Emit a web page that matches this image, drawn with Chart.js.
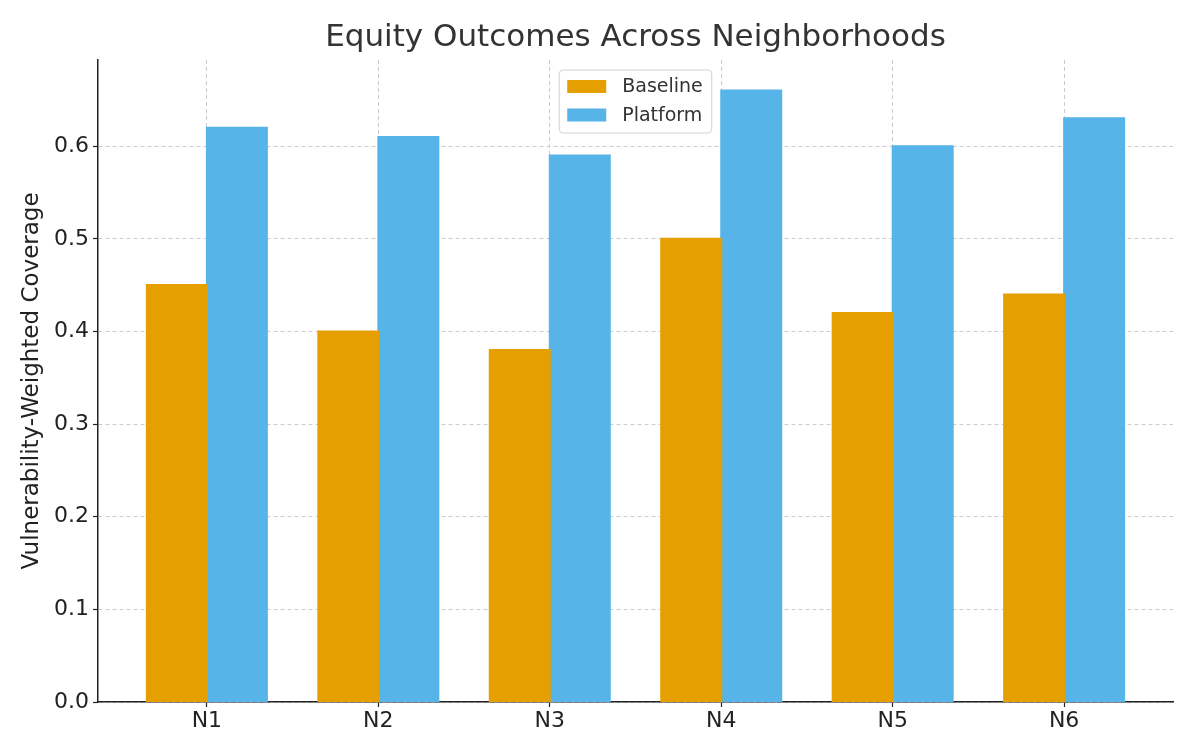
<!DOCTYPE html>
<html>
<head>
<meta charset="utf-8">
<title>Equity Outcomes Across Neighborhoods</title>
<script src="https://cdn.jsdelivr.net/npm/chart.js@4.4.0/dist/chart.umd.min.js"></script>
<style>
    html, body { margin: 0; padding: 0; background: #ffffff; }
    #wrap { width: 1200px; height: 755px; position: relative; }
</style>
</head>
<body>
<div id="wrap"><canvas id="equityChart"></canvas></div>
<script>
const neighborhoods = ['N1', 'N2', 'N3', 'N4', 'N5', 'N6'];
const baselineValues = [0.45, 0.40, 0.38, 0.50, 0.42, 0.44];
const platformValues = [0.62, 0.61, 0.59, 0.66, 0.60, 0.63];
const yTickValues = [0.0, 0.1, 0.2, 0.3, 0.4, 0.5, 0.6];

const FONT = "'DejaVu Sans', sans-serif";
const gridColor = '#cccccc';
const axisColor = '#222222';

function toPoints(values) {
    return values.map((v, i) => ({ x: i, y: v }));
}

// legend drawn inside the plot, top centre, like the original
const insideLegend = {
    id: 'insideLegend',
    afterDatasetsDraw(chart) {
        const ctx = chart.ctx;
        const area = chart.chartArea;
        const sets = chart.data.datasets;
        ctx.save();
        ctx.font = '19px ' + FONT;
        let textW = 0;
        sets.forEach(ds => { textW = Math.max(textW, ctx.measureText(ds.label).width); });
        const padL = 8, patchW = 39, patchH = 13, gap = 16, padR = 9, rowH = 28.5;
        const boxW = padL + patchW + gap + textW + padR;
        const boxH = 63;
        const x0 = (area.left + area.right) / 2 - boxW / 2;
        const y0 = area.top + 10;

        ctx.beginPath();
        ctx.roundRect(x0, y0, boxW, boxH, 4);
        ctx.fillStyle = 'rgba(255,255,255,0.8)';
        ctx.fill();
        ctx.strokeStyle = '#d0d0d0';
        ctx.lineWidth = 1;
        ctx.stroke();

        sets.forEach((ds, i) => {
            const cy = y0 + 16.5 + i * rowH;
            ctx.fillStyle = ds.backgroundColor;
            ctx.fillRect(x0 + padL, cy - patchH / 2, patchW, patchH);
            ctx.fillStyle = '#333333';
            ctx.textBaseline = 'middle';
            ctx.textAlign = 'left';
            ctx.fillText(ds.label, x0 + padL + patchW + gap, cy + 1);
        });
        ctx.restore();
    }
};

const equityData = {
    datasets: [
        {
            label: 'Baseline',
            data: toPoints(baselineValues),
            backgroundColor: '#E69F00',
            borderWidth: 0,
            inflateAmount: 1,
            categoryPercentage: 0.7,
            barPercentage: 1.0
        },
        {
            label: 'Platform',
            data: toPoints(platformValues),
            backgroundColor: '#56B4E9',
            borderWidth: 0,
            inflateAmount: 1,
            categoryPercentage: 0.7,
            barPercentage: 1.0
        }
    ]
};

const equityConfig = {
    type: 'bar',
    data: equityData,
    options: {
        responsive: true,
        maintainAspectRatio: false,
        animation: false,
        layout: { padding: { left: 0, right: 27, top: 0, bottom: 0 } },
        plugins: {
            legend: { display: false },
            tooltip: { enabled: false },
            title: {
                display: true,
                fullSize: false,
                text: 'Equity Outcomes Across Neighborhoods',
                color: '#333333',
                font: { family: FONT, size: 31, weight: 'normal' },
                padding: { top: 19.4, bottom: 3.4 }
            }
        },
        scales: {
            x: {
                type: 'linear',
                offset: false,
                min: -0.635,
                max: 5.635,
                afterBuildTicks: s => { s.ticks = neighborhoods.map((n, i) => ({ value: i })); },
                afterFit: s => { s.height = 53; },
                ticks: {
                    callback: v => neighborhoods[v],
                    color: axisColor,
                    font: { family: FONT, size: 22 },
                    padding: 1,
                    maxRotation: 0,
                    autoSkip: false
                },
                grid: {
                    offset: false,
                    color: gridColor,
                    lineWidth: 1,
                    tickColor: axisColor,
                    tickBorderDash: [],
                    tickLength: 5,
                    tickWidth: 1.2
                },
                border: { display: true, color: axisColor, width: 1.5, dash: [4, 3] }
            },
            y: {
                min: 0,
                max: 0.693,
                afterBuildTicks: s => { s.ticks = yTickValues.map(v => ({ value: v })); },
                afterFit: s => { s.width = 98; },
                ticks: {
                    callback: v => v.toFixed(1),
                    color: axisColor,
                    font: { family: FONT, size: 22 },
                    padding: 4
                },
                grid: {
                    color: gridColor,
                    lineWidth: 1,
                    tickColor: axisColor,
                    tickBorderDash: [],
                    tickLength: 5,
                    tickWidth: 1.2
                },
                border: { display: true, color: axisColor, width: 1.5, dash: [4, 3] },
                title: {
                    display: true,
                    text: 'Vulnerability-Weighted Coverage',
                    color: '#222222',
                    font: { family: FONT, size: 23 },
                    padding: { top: 18, bottom: 0 }
                }
            }
        }
    },
    plugins: [insideLegend]
};

const equityChart = new Chart(document.getElementById('equityChart'), equityConfig);
</script>
</body>
</html>
